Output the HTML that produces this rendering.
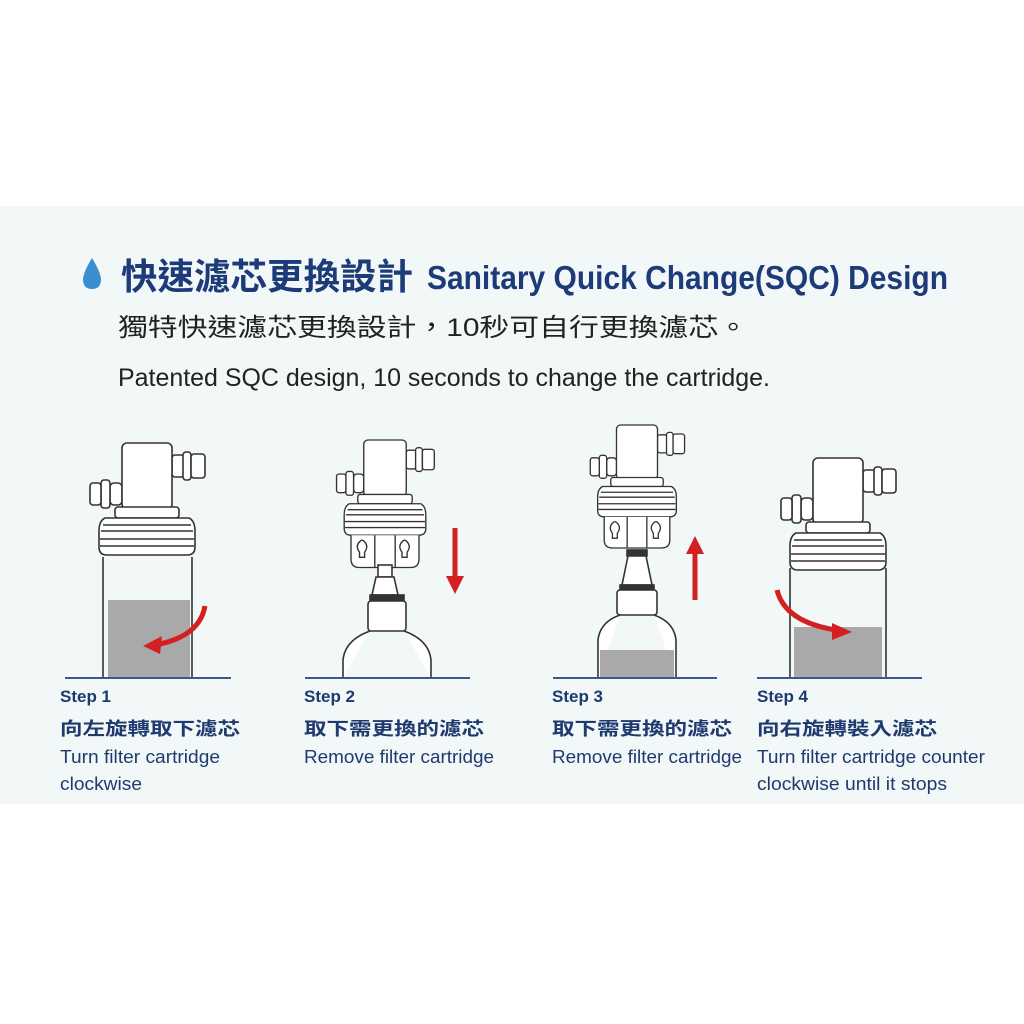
<!DOCTYPE html>
<html><head><meta charset="utf-8"><style>
html,body{margin:0;padding:0;background:#fff;}
svg{display:block;}
</style></head><body>
<svg width="1024" height="1024" viewBox="0 0 1024 1024" xmlns="http://www.w3.org/2000/svg">
<defs>
<g id="head" fill="#fff" stroke="#333" stroke-width="1.6">
  <rect x="25" y="12" width="12" height="22" rx="3"/>
  <rect x="36" y="9" width="8" height="28" rx="3"/>
  <rect x="44" y="11" width="14" height="24" rx="3"/>
  <rect x="-37" y="40" width="12" height="22" rx="4"/>
  <rect x="-46" y="37" width="9" height="28" rx="3"/>
  <rect x="-57" y="40" width="11" height="22" rx="3"/>
  <rect x="-25" y="0" width="50" height="66" rx="5"/>
  <rect x="-32" y="64" width="64" height="11" rx="3"/>
  <path d="M-42 75 H42 Q48 78 48 88 V104 Q48 112 40 112 H-40 Q-48 112 -48 104 V88 Q-48 78 -42 75 Z"/>
  <path d="M-44 82 H44 M-46 88 H46 M-47 96 H47 M-47 103 H47" fill="none"/>
</g>
<g id="bracket" fill="#fff" stroke="#333" stroke-width="1.6">
  <path d="M-40 112 V140 Q-40 150 -30 150 H30 Q40 150 40 140 V112"/>
  <path d="M-28 118 q-8 6 -2 14 l0 6 h6 l0 -6 q6 -8 -2 -14 z M22 118 q-8 6 -2 14 l0 6 h6 l0 -6 q6 -8 -2 -14 z"/>
  <path d="M-12 112 V150 M12 112 V150"/>
</g>
</defs>
<rect x="0" y="0" width="1024" height="1024" fill="#fff"/>
<rect x="0" y="206" width="1024" height="598" fill="#f2f7f8"/>

<!-- title -->
<path d="M92 258 Q84 271 83 279 Q83 289 92 289 Q101 289 101 279 Q100 271 92 258 Z" fill="#3b8fd0"/>
<text x="121" y="289" font-family="Liberation Sans, 'Noto Sans CJK TC', sans-serif" font-size="36" font-weight="bold" fill="#1d3b78" textLength="292" lengthAdjust="spacingAndGlyphs">快速濾芯更換設計</text>
<text x="427" y="289" font-family="Liberation Sans, sans-serif" font-size="33" font-weight="bold" fill="#1d3b78" textLength="521" lengthAdjust="spacingAndGlyphs">Sanitary Quick Change(SQC) Design</text>
<text x="118" y="336" font-family="Liberation Sans, 'Noto Sans CJK TC', sans-serif" font-size="25" fill="#222" textLength="630" lengthAdjust="spacingAndGlyphs">獨特快速濾芯更換設計，10秒可自行更換濾芯。</text>
<text x="118" y="386" font-family="Liberation Sans, sans-serif" font-size="25" fill="#222" textLength="652" lengthAdjust="spacingAndGlyphs">Patented SQC design, 10 seconds to change the cartridge.</text>

<!-- Step 1 drawing -->
<g stroke="#333" stroke-width="1.6" fill="#fff">
  <path d="M103 557 V678 M192 557 V678"/>
  <rect x="108" y="600" width="82" height="78" fill="#a9a9a9" stroke="none"/>
</g>
<use href="#head" x="147" y="443"/>
<path d="M205 606 Q200 635 160 644" stroke="#d42020" stroke-width="5" fill="none"/>
<path d="M143 646 L162 636 L160 654 Z" fill="#d42020"/>
<line x1="65" y1="678" x2="231" y2="678" stroke="#3a5a8a" stroke-width="2"/>

<!-- Step 2 drawing -->
<g transform="translate(385,440) scale(0.85)">
  <use href="#head"/>
  <use href="#bracket"/>
</g>
<g stroke="#333" stroke-width="1.6" fill="#fff">
  <rect x="378" y="565" width="14" height="12"/>
  <path d="M376 577 L372 595 H398 L394 577 Z"/>
  <rect x="370" y="595" width="34" height="6" fill="#333"/>
  <rect x="368" y="601" width="38" height="30" rx="3"/>
  <path d="M370 631 Q345 640 343 660 V678 M404 631 Q429 640 431 660 V678"/>
</g>
<path d="M455 528 V578" stroke="#d42020" stroke-width="5"/>
<path d="M446 576 L464 576 L455 594 Z" fill="#d42020"/>
<line x1="305" y1="678" x2="470" y2="678" stroke="#3a5a8a" stroke-width="2"/>

<!-- Step 3 drawing -->
<g transform="translate(637,425) scale(0.82)">
  <use href="#head"/>
  <use href="#bracket"/>
</g>
<g stroke="#333" stroke-width="1.6" fill="#fff">
  <rect x="627" y="550" width="20" height="6" fill="#333"/>
  <path d="M628 556 L622 585 H652 L646 556 Z"/>
  <rect x="620" y="585" width="34" height="5" fill="#333"/>
  <rect x="617" y="590" width="40" height="25" rx="3"/>
  <path d="M620 615 Q600 622 598 640 V678 M654 615 Q674 622 676 640 V678"/>
  <rect x="600" y="650" width="74" height="28" fill="#a9a9a9" stroke="none"/>
</g>
<path d="M695 600 V552" stroke="#d42020" stroke-width="5"/>
<path d="M686 554 L704 554 L695 536 Z" fill="#d42020"/>
<line x1="553" y1="678" x2="717" y2="678" stroke="#3a5a8a" stroke-width="2"/>

<!-- Step 4 drawing -->
<g stroke="#333" stroke-width="1.6" fill="#fff">
  <path d="M790 568 V678 M886 568 V678"/>
  <rect x="794" y="627" width="88" height="51" fill="#a9a9a9" stroke="none"/>
</g>
<use href="#head" x="838" y="458"/>
<path d="M777 590 Q785 622 836 630" stroke="#d42020" stroke-width="5" fill="none"/>
<path d="M852 632 L832 623 L832 640 Z" fill="#d42020"/>
<line x1="757" y1="678" x2="922" y2="678" stroke="#3a5a8a" stroke-width="2"/>

<!-- step labels -->
<g font-family="Liberation Sans, 'Noto Sans CJK TC', sans-serif" fill="#1f3a6e">
  <text x="60" y="702" font-size="17" font-weight="bold">Step 1</text>
  <text x="60" y="735" font-size="18" font-weight="bold" textLength="180" lengthAdjust="spacingAndGlyphs">向左旋轉取下濾芯</text>
  <text x="60" y="763" font-size="18" textLength="160" lengthAdjust="spacingAndGlyphs">Turn filter cartridge</text>
  <text x="60" y="790" font-size="18" textLength="82" lengthAdjust="spacingAndGlyphs">clockwise</text>

  <text x="304" y="702" font-size="17" font-weight="bold">Step 2</text>
  <text x="304" y="735" font-size="18" font-weight="bold" textLength="180" lengthAdjust="spacingAndGlyphs">取下需更換的濾芯</text>
  <text x="304" y="763" font-size="18" textLength="190" lengthAdjust="spacingAndGlyphs">Remove filter cartridge</text>

  <text x="552" y="702" font-size="17" font-weight="bold">Step 3</text>
  <text x="552" y="735" font-size="18" font-weight="bold" textLength="180" lengthAdjust="spacingAndGlyphs">取下需更換的濾芯</text>
  <text x="552" y="763" font-size="18" textLength="190" lengthAdjust="spacingAndGlyphs">Remove filter cartridge</text>

  <text x="757" y="702" font-size="17" font-weight="bold">Step 4</text>
  <text x="757" y="735" font-size="18" font-weight="bold" textLength="180" lengthAdjust="spacingAndGlyphs">向右旋轉裝入濾芯</text>
  <text x="757" y="763" font-size="18" textLength="228" lengthAdjust="spacingAndGlyphs">Turn filter cartridge counter</text>
  <text x="757" y="790" font-size="18" textLength="190" lengthAdjust="spacingAndGlyphs">clockwise until it stops</text>
</g>
</svg>
</body></html>
